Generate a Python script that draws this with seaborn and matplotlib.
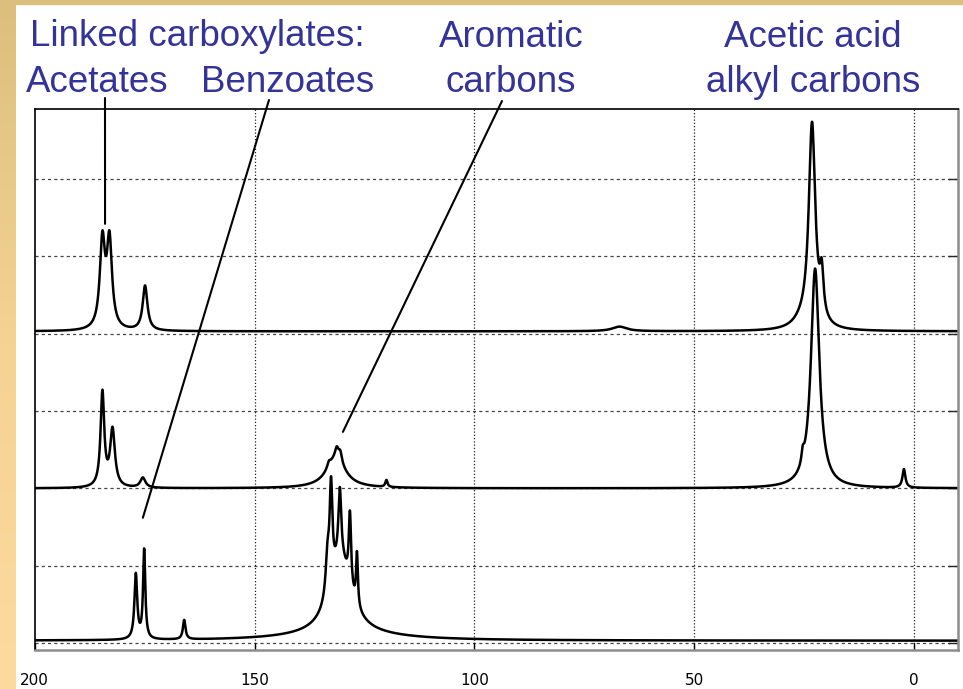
import numpy as np
import pandas as pd
import matplotlib
matplotlib.use("Agg")
import matplotlib.pyplot as plt
import seaborn as sns
from matplotlib.colors import LinearSegmentedColormap

# ---------------- data ----------------
# x axis: chemical shift (ppm), reversed
x_ticks = [200, 150, 100, 50, 0]
x_tick_labels = ["200", "150", "100", "50", "0"]

# Each spectrum is described by its peaks: centre (ppm), height, half-width (ppm)
top_offset = 4.03
top_centers = [184.6, 183.0, 174.9, 67.0, 23.2, 21.0, 25.5]
top_heights = [1.12, 1.12, 0.58, 0.06, 2.64, 0.55, 0.08]
top_widths = [0.7, 0.7, 0.65, 2.0, 0.9, 0.5, 2.5]

mid_offset = 2.0
mid_centers = [184.6, 182.3, 175.4, 133.1, 131.3, 130.5, 131.5, 120.0, 22.5, 25.3, 2.3]
mid_heights = [1.22, 0.74, 0.13, 0.07, 0.13, 0.13, 0.38, 0.09, 2.84, 0.15, 0.24]
mid_widths = [0.5, 0.65, 0.7, 0.45, 0.45, 0.45, 2.6, 0.3, 1.15, 0.35, 0.4]

bot_offset = 0.03
bot_centers = [177.0, 175.1, 166.0, 133.4, 132.6, 130.6, 128.3, 126.7, 130.5, 130.0]
bot_heights = [0.84, 1.15, 0.25, 0.5, 1.25, 0.88, 0.95, 0.68, 0.95, 0.08]
bot_widths = [0.38, 0.3, 0.35, 0.5, 0.38, 0.38, 0.32, 0.25, 2.9, 14.0]

labels_line1 = ["Linked carboxylates:", "Aromatic", "Acetic acid"]
labels_line2 = ["Acetates", "Benzoates", "carbons", "alkyl carbons"]

# annotation leader targets (ppm, intensity)
lead_targets = {"Acetates": (184.0, 5.42), "Benzoates": (175.4, 1.62), "Aromatic": (129.9, 2.73)}

# ---------------- build spectra ----------------
ppm = np.linspace(200.5, -10.5, 6000)


def spectrum(centers, heights, widths, offset):
    y = np.full_like(ppm, offset)
    for c, h, w in zip(centers, heights, widths):
        y += h / (1.0 + ((ppm - c) / w) ** 2)
    return y


frames = []
for name, (c, h, w, o) in {
    "top": (top_centers, top_heights, top_widths, top_offset),
    "mid": (mid_centers, mid_heights, mid_widths, mid_offset),
    "bot": (bot_centers, bot_heights, bot_widths, bot_offset),
}.items():
    frames.append(pd.DataFrame({"ppm": ppm, "I": spectrum(c, h, w, o), "trace": name}))
df = pd.concat(frames, ignore_index=True)

# ---------------- figure ----------------
sns.set_theme(style="white")
plt.rcParams["font.family"] = ["Liberation Sans", "DejaVu Sans"]

W, H = 963, 689
fig = plt.figure(figsize=(W / 100, H / 100), dpi=100, facecolor="white")

# slide background decorations (gold strips)
bg = fig.add_axes([0, 0, 16 / W, 1])
grad = np.linspace(0, 1, 256).reshape(-1, 1)
cmap = LinearSegmentedColormap.from_list("gold", ["#DCBF7C", "#F5D393", "#FDDA9E"])
bg.imshow(grad, aspect="auto", cmap=cmap, extent=[0, 1, 0, 1], origin="upper")
bg.axis("off")
fig.patches.append(plt.Rectangle((0, 1 - 3.5 / H), 1, 3.5 / H, transform=fig.transFigure,
                                 color="#DCBF7C", zorder=5))

left, right, top, bottom = 34.7, 958, 109, 650
ax = fig.add_axes([left / W, 1 - bottom / H, (right - left) / W, (bottom - top) / H])
ax.set_facecolor("white")

sns.lineplot(data=df, x="ppm", y="I", units="trace", estimator=None, sort=False,
             color="black", linewidth=1.8, ax=ax, legend=False)

ax.set_xlim(200, -10)
ax.set_ylim(-0.09, 6.905)
ax.set_xticks(x_ticks)
ax.set_xticklabels(x_tick_labels, fontsize=11, family="DejaVu Sans")
ax.set_yticks(range(0, 7))
ax.set_yticklabels([])
ax.set_xlabel("")
ax.set_ylabel("")

# grid: dashed horizontal, dotted vertical
for yv in range(0, 7):
    ax.axhline(yv, color="#444444", lw=0.9, ls=(0, (2.5, 2.5)), zorder=0)
for xv in [150, 100, 50, 0]:
    ax.axvline(xv, color="#222222", lw=0.9, ls=(0, (1, 1.6)), zorder=0)

ax.tick_params(axis="x", direction="in", length=5, width=1, pad=16.5, colors="black",
               bottom=True, top=False)
ax.tick_params(axis="y", direction="in", length=7, width=1, left=False, right=True,
               labelleft=False, labelright=False)

for s in ["top", "left"]:
    ax.spines[s].set_color("black")
    ax.spines[s].set_linewidth(1.2)
for s in ["right", "bottom"]:
    ax.spines[s].set_color("#8c8c8c")
    ax.spines[s].set_linewidth(1.8)

# ---------------- labels ----------------
blue = "#333399"
fs = 26.5


def fx(px):
    return px / W


def fy(py):
    return 1 - py / H


fig.text(fx(30), fy(46), labels_line1[0], color=blue, fontsize=fs, ha="left", va="baseline")
fig.text(fx(511), fy(47), labels_line1[1], color=blue, fontsize=fs, ha="center", va="baseline")
fig.text(fx(813), fy(47), labels_line1[2], color=blue, fontsize=fs, ha="center", va="baseline")
fig.text(fx(26), fy(92), labels_line2[0], color=blue, fontsize=fs, ha="left", va="baseline")
fig.text(fx(201), fy(92), labels_line2[1], color=blue, fontsize=fs, ha="left", va="baseline")
fig.text(fx(511), fy(92), labels_line2[2], color=blue, fontsize=fs, ha="center", va="baseline")
fig.text(fx(813), fy(92), labels_line2[3], color=blue, fontsize=fs, ha="center", va="baseline")

# leader lines
starts = {"Acetates": (105, 98), "Benzoates": (269, 100), "Aromatic": (502, 101)}
for key, (sx, sy) in starts.items():
    ax.annotate("", xy=lead_targets[key], xycoords="data",
                xytext=(fx(sx), fy(sy)), textcoords="figure fraction",
                arrowprops=dict(arrowstyle="-", lw=1.5, color="black",
                                shrinkA=0, shrinkB=0),
                annotation_clip=False)

fig.savefig("out.png", dpi=100, facecolor="white")
